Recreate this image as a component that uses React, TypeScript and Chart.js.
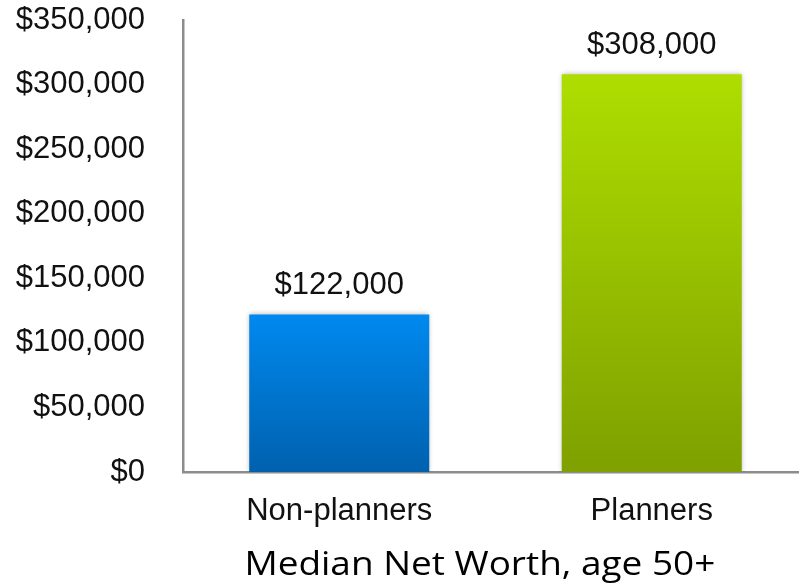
import React, { useEffect, useRef } from 'react';
import { Chart, registerables } from 'chart.js';

Chart.register(...registerables);

const categories = ['Non-planners', 'Planners'];
const medianNetWorth = [122000, 308000];
const valueLabels = ['$122,000', '$308,000'];
const yTickValues = [0, 50000, 100000, 150000, 200000, 250000, 300000, 350000];
const yTickLabels = ['$0', '$50,000', '$100,000', '$150,000', '$200,000', '$250,000', '$300,000', '$350,000'];
const xAxisTitle = 'Median Net Worth, age 50+';
const topColors = ['#0089ef', '#aede00'];
const bottomColors = ['#0061ae', '#7fa000'];

const TICK_FONT = '"Liberation Sans", Arial, sans-serif';

export default function App() {
  const ref = useRef<HTMLCanvasElement | null>(null);

  useEffect(() => {
    const canvas = ref.current;
    if (!canvas) return;

    const labelPlugin = {
      id: 'valueLabels',
      beforeDatasetsDraw(chart: any) {
        const ctx = chart.ctx;
        ctx.save();
        ctx.shadowColor = 'rgba(0,0,0,0.28)';
        ctx.shadowBlur = 5;
        ctx.shadowOffsetX = 0;
        ctx.shadowOffsetY = 0;
      },
      afterDatasetsDraw(chart: any) {
        const ctx = chart.ctx;
        ctx.restore();
        ctx.save();
        const meta = chart.getDatasetMeta(0);
        ctx.font = `31px ${TICK_FONT}`;
        ctx.fillStyle = '#111';
        ctx.textAlign = 'center';
        ctx.textBaseline = 'alphabetic';
        meta.data.forEach((bar: any, i: number) => {
          ctx.fillText(valueLabels[i], bar.x, bar.y - 20);
        });
        ctx.restore();
      },
      afterDraw(chart: any) {
        const ctx = chart.ctx;
        const area = chart.chartArea;
        ctx.save();
        ctx.font = '33px "Open Sans", sans-serif';
        ctx.fillStyle = '#000';
        ctx.textAlign = 'center';
        ctx.textBaseline = 'alphabetic';
        const cx = area.left + (area.right - area.left) * 0.475;
        const sx = 1.12;
        ctx.translate(cx, area.bottom + 103);
        ctx.scale(sx, 1);
        ctx.fillText(xAxisTitle, 0, 0);
        ctx.restore();
      },
    };

    const chart = new Chart(canvas, {
      type: 'bar',
      data: {
        labels: categories,
        datasets: [
          {
            data: medianNetWorth,
            backgroundColor: (c: any) => {
              const area = c.chart.chartArea;
              const i = c.dataIndex ?? 0;
              if (!area) return topColors[i];
              const y0 = c.chart.scales.y.getPixelForValue(medianNetWorth[i]);
              const g = c.chart.ctx.createLinearGradient(0, y0, 0, area.bottom);
              g.addColorStop(0, topColors[i]);
              g.addColorStop(1, bottomColors[i]);
              return g;
            },
            borderWidth: 0,
            barPercentage: 0.576,
            categoryPercentage: 1,
          },
        ],
      },
      options: {
        responsive: false,
        animation: false,
        layout: { padding: { top: 20, left: 0, right: 0, bottom: 0 } },
        plugins: {
          legend: { display: false },
          tooltip: { enabled: false },
          title: { display: false },
        },
        scales: {
          x: {
            grid: { display: false, drawTicks: false },
            border: { display: true, color: '#8c8c8c', width: 2.5 },
            ticks: {
              font: { family: TICK_FONT, size: 31 },
              color: '#111',
              padding: 21,
            },
            afterFit: (scale: any) => {
              scale.height = 112;
              scale.paddingLeft = 0;
              scale.paddingRight = 0;
              scale.paddingTop = 0;
              scale.paddingBottom = 0;
            },
          },
          y: {
            min: 0,
            max: 350000,
            grid: { display: false, drawTicks: false },
            border: { display: true, color: '#8c8c8c', width: 2.5 },
            afterBuildTicks: (scale: any) => {
              scale.ticks = yTickValues.map((v) => ({ value: v }));
            },
            ticks: {
              font: { family: TICK_FONT, size: 31 },
              color: '#111',
              padding: 38,
              callback: (_v: any, i: number) => yTickLabels[i],
            },
            afterFit: (scale: any) => {
              scale.width = 183;
              scale.paddingTop = 0;
              scale.paddingBottom = 0;
              scale.paddingLeft = 0;
              scale.paddingRight = 0;
            },
          },
        },
      },
      plugins: [labelPlugin],
    } as any);

    return () => chart.destroy();
  }, []);

  return (
    <div style={{ position: 'absolute', left: 0, top: 0, width: 799, height: 584, overflow: 'hidden', background: '#fff' }}>
      <canvas ref={ref} width={808} height={584} style={{ display: 'block' }} />
    </div>
  );
}
